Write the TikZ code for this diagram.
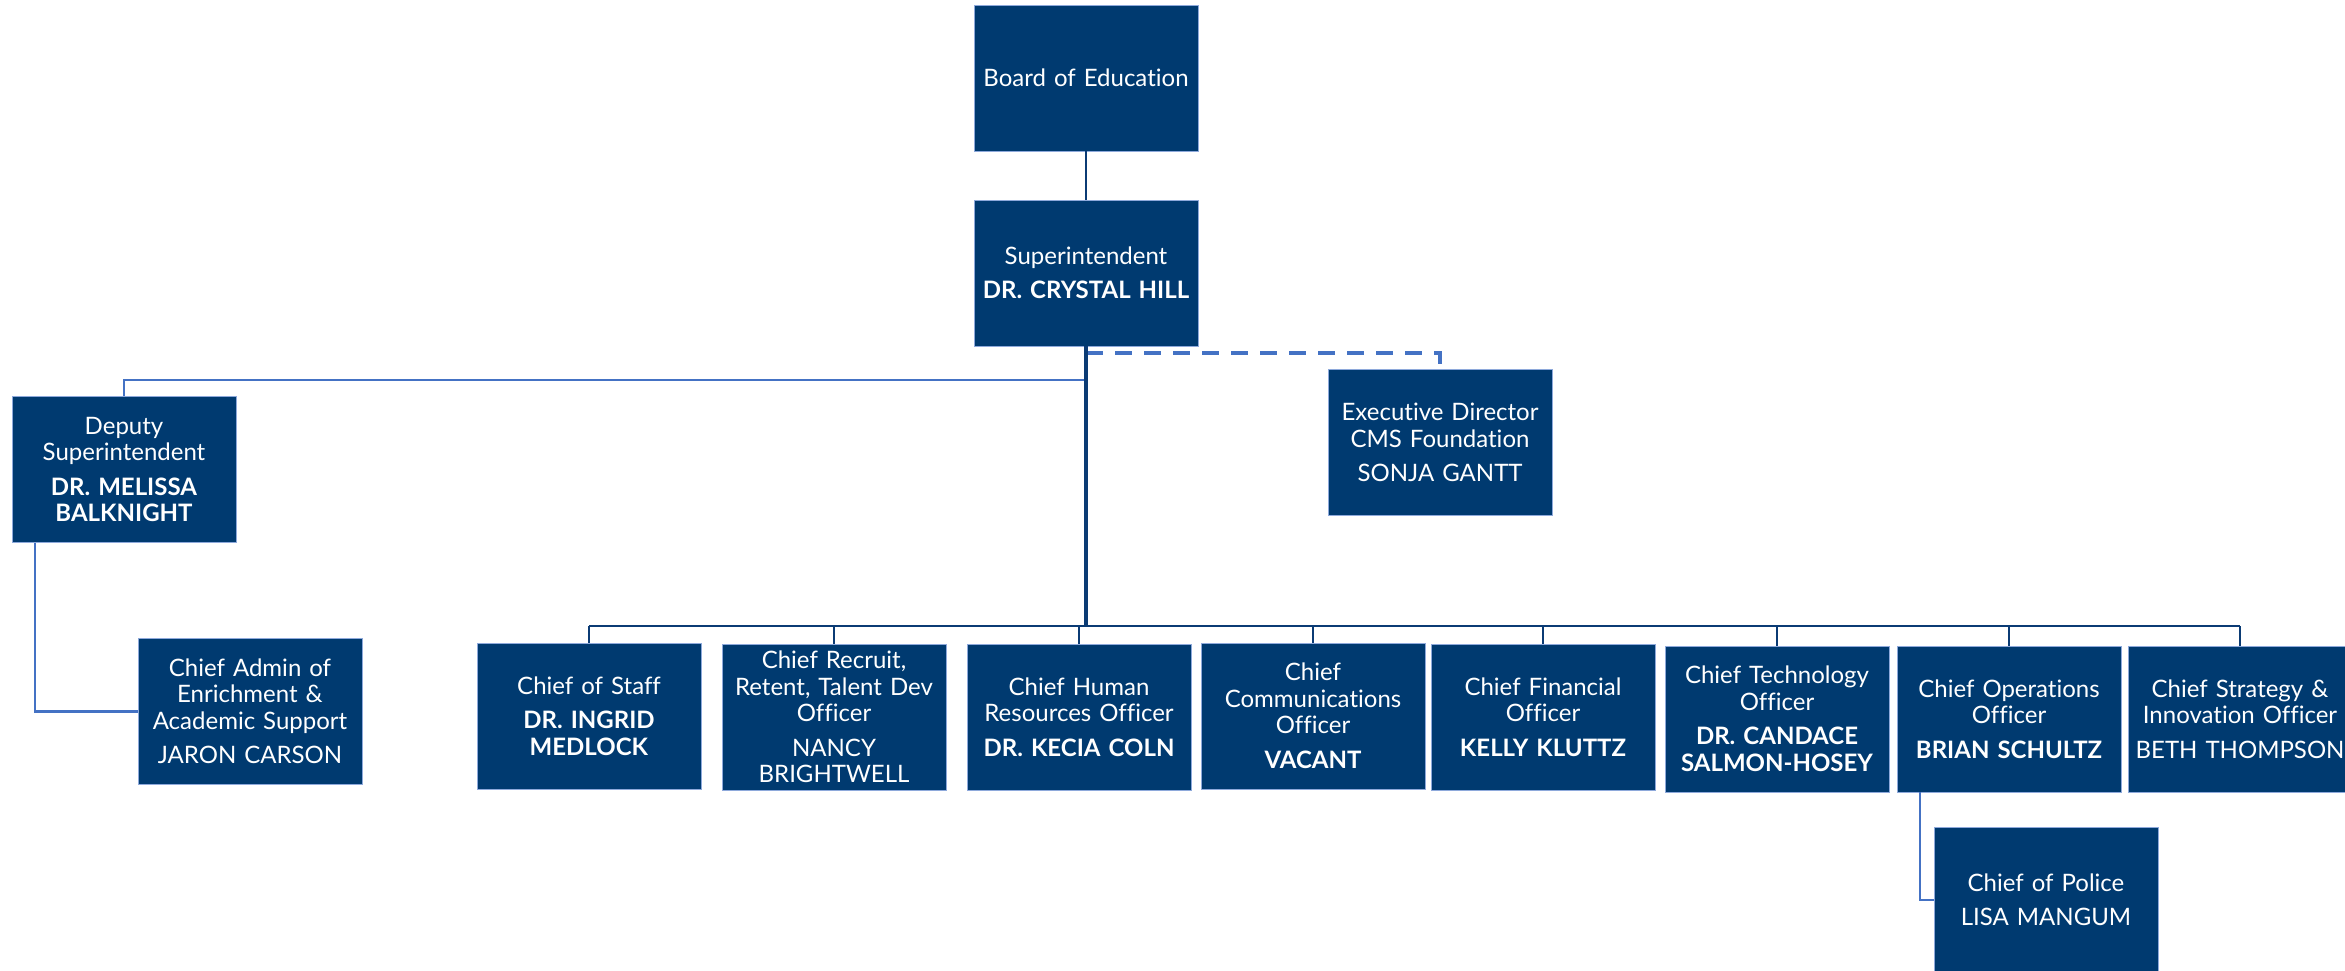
\documentclass[tikz,border=0pt]{standalone}
\usepackage{fontspec}
\setmainfont{Lato}[Ligatures=NoCommon]
\definecolor{navy}{HTML}{003A70}
\definecolor{edgeblue}{HTML}{8EA9DB}
\definecolor{linedark}{HTML}{0B3B74}
\definecolor{linelight}{HTML}{4472C4}
\newcommand{\boxfont}{\fontsize{24}{26.5}\selectfont}
\tikzset{
  orgbox/.style={fill=navy, draw=edgeblue, line width=0.8pt, minimum width=224pt,
    minimum height=146pt, text width=222pt, align=center, text=white, inner sep=0pt,
    font=\boxfont},
  darkline/.style={draw=linedark, line width=3.5pt},
  midline/.style={draw=linedark, line width=2.2pt},
  lightline/.style={draw=linelight, line width=2.2pt},
  dashline/.style={draw=linelight, line width=3.5pt, dash pattern=on 17pt off 12pt},
}
\begin{document}
\begin{tikzpicture}[x=1pt,y=-1pt]
\useasboundingbox (0,0) rectangle (2345,971);

\node[orgbox] (board) at (1086,78) {Board of Education};
\node[orgbox] (super) at (1086,273) {Superintendent\\[8pt]\textbf{DR. CRYSTAL HILL}};
\node[orgbox] (exec) at (1440,442.5) {Executive Director\\CMS Foundation\\[8pt]SONJA GANTT};
\node[orgbox] (deputy) at (124,469.5) {Deputy\\Superintendent\\[8pt]\textbf{DR. MELISSA}\\\textbf{BALKNIGHT}};
\node[orgbox] (admin) at (250,711.5) {Chief Admin of\\Enrichment \&\\Academic Support\\[8pt]JARON CARSON};

\node[orgbox] (staff) at (589,716) {Chief of Staff\\[8pt]\textbf{DR. INGRID}\\\textbf{MEDLOCK}};
\node[orgbox] (recruit) at (834,717) {Chief Recruit,\\Retent, Talent Dev\\Officer\\[8pt]NANCY\\BRIGHTWELL};
\node[orgbox] (hr) at (1079,717) {Chief Human\\Resources Officer\\[8pt]\textbf{DR. KECIA COLN}};
\node[orgbox] (comm) at (1313,716) {Chief\\Communications\\Officer\\[8pt]\textbf{VACANT}};
\node[orgbox] (cfo) at (1543,717) {Chief Financial\\Officer\\[8pt]\textbf{KELLY KLUTTZ}};
\node[orgbox] (cto) at (1777,719) {Chief Technology\\Officer\\[8pt]\textbf{DR. CANDACE}\\\textbf{SALMON-HOSEY}};
\node[orgbox] (coo) at (2009,719) {Chief Operations\\Officer\\[8pt]\textbf{BRIAN SCHULTZ}};
\node[orgbox] (strat) at (2240,719) {Chief Strategy \&\\Innovation Officer\\[8pt]BETH THOMPSON};
\node[orgbox] (police) at (2046,900) {Chief of Police\\[8pt]LISA MANGUM};

\coordinate (jdash) at (1086,353);
\coordinate (jdep) at (1086,380);
\coordinate (busc) at (1086,626);
\coordinate (busl) at (589,626);
\coordinate (busr) at (2240,626);

% connectors
\draw[midline] (board.south) -- (super.north);
\draw[dashline] (jdash) -| (exec.north);
\draw[lightline] (jdep) -| (deputy.north);
\draw[lightline] ([xshift=-89pt]deputy.south) |- (admin.west);
\draw[darkline] (super.south) -- (busc);
\draw[midline] (busl) -- (busr);
\foreach \n in {staff,recruit,hr,comm,cfo,cto,coo,strat}
  \draw[midline] (\n.north) -- (\n.north |- busc);
\draw[lightline] ([xshift=-89pt]coo.south) |- (police.west);
\end{tikzpicture}
\end{document}
